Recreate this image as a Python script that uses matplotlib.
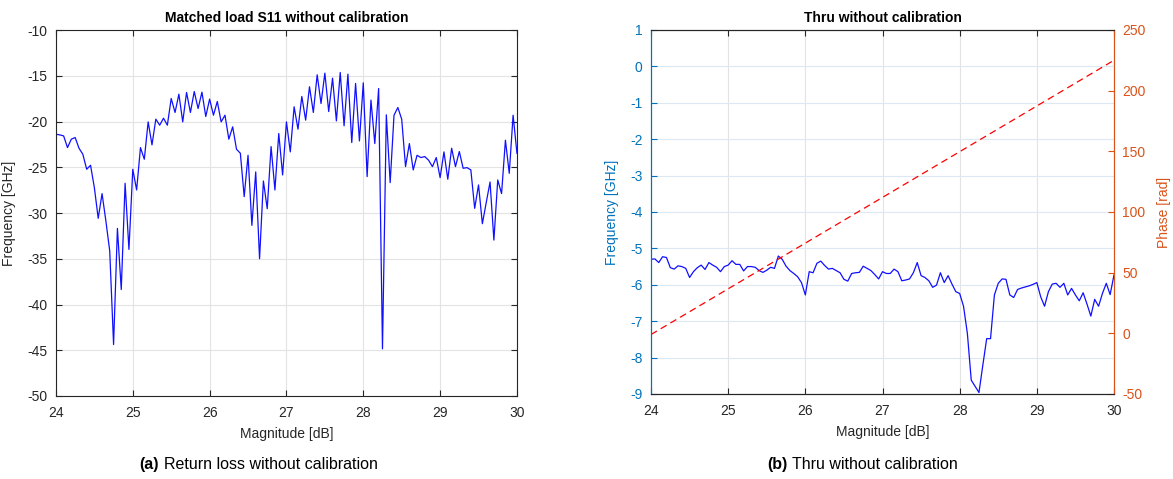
import numpy as np
import matplotlib.pyplot as plt

# Frequency sweep shared by both measurements (GHz)
freq = np.arange(121) * 0.05 + 24.0

# Return loss of the matched load (dB)
s11_db = [
    -21.39, -21.46, -21.57, -22.85, -21.93, -21.75, -22.92, -23.58, -25.22, -24.78,
    -27.23, -30.58, -27.88, -30.88, -34.16, -44.38, -31.68, -38.36, -26.75, -33.98,
    -25.22, -27.48, -22.85, -24.12, -20.04, -22.55, -19.74, -20.40, -19.64, -20.40,
    -17.48, -19.01, -17.01, -20.04, -16.82, -19.01, -16.72, -18.58, -16.79, -19.45,
    -17.55, -19.31, -17.81, -20.04, -19.31, -21.93, -20.58, -23.03, -23.47, -28.21,
    -23.69, -31.35, -25.51, -35.00, -26.50, -29.53, -22.74, -27.48, -21.31, -25.84,
    -20.04, -23.32, -18.39, -20.84, -17.26, -19.85, -16.20, -19.01, -14.89, -18.03,
    -14.71, -18.91, -15.26, -19.93, -14.64, -20.47, -14.82, -22.30, -15.84, -22.12,
    -15.77, -26.02, -17.66, -22.41, -16.39, -44.85, -19.27, -26.68, -19.31, -18.47,
    -19.74, -24.93, -22.41, -25.29, -23.69, -23.94, -23.83, -24.23, -24.93, -23.94,
    -26.13, -23.32, -26.31, -22.92, -24.93, -23.28, -25.11, -25.04, -25.29, -29.49,
    -26.93, -31.17, -28.87, -26.61, -32.96, -26.39, -27.88, -22.04, -25.66, -19.31,
    -23.47,
]

# Thru magnitude (dB)
thru_db = [
    -5.30, -5.29, -5.39, -5.23, -5.25, -5.53, -5.57, -5.48, -5.50, -5.55,
    -5.80, -5.64, -5.53, -5.46, -5.58, -5.39, -5.46, -5.52, -5.64, -5.50,
    -5.46, -5.34, -5.44, -5.44, -5.62, -5.50, -5.50, -5.52, -5.61, -5.66,
    -5.60, -5.52, -5.55, -5.21, -5.30, -5.49, -5.61, -5.69, -5.78, -5.94,
    -6.28, -5.64, -5.67, -5.41, -5.35, -5.47, -5.57, -5.55, -5.61, -5.67,
    -5.85, -5.90, -5.69, -5.67, -5.66, -5.49, -5.55, -5.61, -5.72, -5.84,
    -5.64, -5.69, -5.69, -5.57, -5.64, -5.89, -5.87, -5.84, -5.67, -5.39,
    -5.75, -5.80, -5.89, -6.07, -6.01, -5.67, -5.94, -5.75, -5.98, -6.19,
    -6.24, -6.59, -7.34, -8.62, -8.79, -8.96, -8.21, -7.48, -7.48, -6.28,
    -5.96, -5.84, -5.85, -6.28, -6.35, -6.13, -6.09, -6.06, -6.03, -5.99,
    -5.94, -6.33, -6.59, -6.19, -5.98, -5.96, -6.07, -5.96, -6.28, -6.10,
    -6.28, -6.44, -6.22, -6.53, -6.86, -6.40, -6.59, -6.24, -5.96, -6.27,
    -5.73,
]

# Unwrapped thru phase, end points of the sweep (rad)
phase_freq = [24.0, 30.0]
phase_rad = [-1.0, 225.0]

x_ticks = [24, 25, 26, 27, 28, 29, 30]
s11_ticks = [-50, -45, -40, -35, -30, -25, -20, -15, -10]
thru_ticks = [-9, -8, -7, -6, -5, -4, -3, -2, -1, 0, 1]
phase_ticks = [-50, 0, 50, 100, 150, 200, 250]

plt.rcParams.update({
    "font.family": ["Liberation Sans", "DejaVu Sans"],
    "font.size": 10,
    "axes.unicode_minus": False,
    "xtick.direction": "in",
    "ytick.direction": "in",
    "xtick.major.size": 4,
    "ytick.major.size": 4,
    "xtick.major.pad": 7,
    "ytick.major.pad": 6,
})

DARK = "#262626"
BLUE_AX = "#0072BD"
ORANGE_AX = "#D95319"
GRID = "#E3E3E3"
LINE_BLUE = "#1010FF"

fig = plt.figure(figsize=(11.73, 4.79), dpi=100)
ax1 = fig.add_axes([0.0477, 0.1733, 0.393, 0.764])
ax2 = fig.add_axes([0.555, 0.1775, 0.3947, 0.760])

# ---- left: matched load
ax1.plot(freq, s11_db, color=LINE_BLUE, linewidth=0.9)
ax1.set_xlim(24, 30)
ax1.set_ylim(-50, -10)
ax1.set_xticks(x_ticks)
ax1.set_yticks(s11_ticks)
ax1.grid(True, color=GRID, linewidth=0.8)
ax1.set_axisbelow(True)
ax1.tick_params(colors=DARK, labelsize=10, top=True, right=True)
for sp in ax1.spines.values():
    sp.set_color(DARK)
    sp.set_linewidth(0.8)
ax1.set_title("Matched load S11 without calibration", fontsize=10,
              fontweight="bold", color="black", pad=6)
ax1.set_xlabel("Magnitude [dB]", color=DARK, fontsize=10, labelpad=5)
ax1.set_ylabel("Frequency [GHz]", color=DARK, fontsize=10, labelpad=8)

# ---- right: thru with phase on a second axis
ax2.plot(freq, thru_db, color=LINE_BLUE, linewidth=0.9, zorder=3)
ax2.set_xlim(24, 30)
ax2.set_ylim(-9, 1)
ax2.set_xticks(x_ticks)
ax2.set_yticks(thru_ticks)
ax2.xaxis.grid(True, color=GRID, linewidth=0.8)
ax2.yaxis.grid(True, color="#DCE8F3", linewidth=0.8)
ax2.set_axisbelow(True)
ax2.tick_params(axis="x", colors=DARK, labelsize=10, top=True)
ax2.tick_params(axis="y", colors=BLUE_AX, labelsize=10)
ax2.set_xlabel("Magnitude [dB]", color=DARK, fontsize=10, labelpad=5)
ax2.set_ylabel("Frequency [GHz]", color=BLUE_AX, fontsize=10, labelpad=8)
ax2.set_title("Thru without calibration", fontsize=10,
              fontweight="bold", color="black", pad=6)

ax3 = ax2.twinx()
ax3.plot(phase_freq, phase_rad, color="#FF0000", linewidth=0.9,
         linestyle=(0, (5.5, 3.5)))
ax3.set_ylim(-50, 250)
ax3.set_yticks(phase_ticks)
ax3.tick_params(axis="y", colors=ORANGE_AX, labelsize=10)
ax3.set_ylabel("Phase [rad]", color=ORANGE_AX, fontsize=10, labelpad=8)

for a in (ax2, ax3):
    a.spines["top"].set_color(DARK)
    a.spines["bottom"].set_color(DARK)
    a.spines["left"].set_color(BLUE_AX)
    a.spines["right"].set_color(ORANGE_AX)
    for sp in a.spines.values():
        sp.set_linewidth(0.8)

# ---- sub-figure captions with bold labels
cap_y = 0.02
fig.text(0.1355, cap_y, "(a)", fontsize=11.5, fontweight="bold",
         ha="right", va="baseline")
fig.text(0.1395, cap_y, "Return loss without calibration", fontsize=11.5,
         ha="left", va="baseline")
fig.text(0.6715, cap_y, "(b)", fontsize=11.5, fontweight="bold",
         ha="right", va="baseline")
fig.text(0.6755, cap_y, "Thru without calibration", fontsize=11.5,
         ha="left", va="baseline")

fig.savefig("out.png", dpi=100, facecolor="white")
